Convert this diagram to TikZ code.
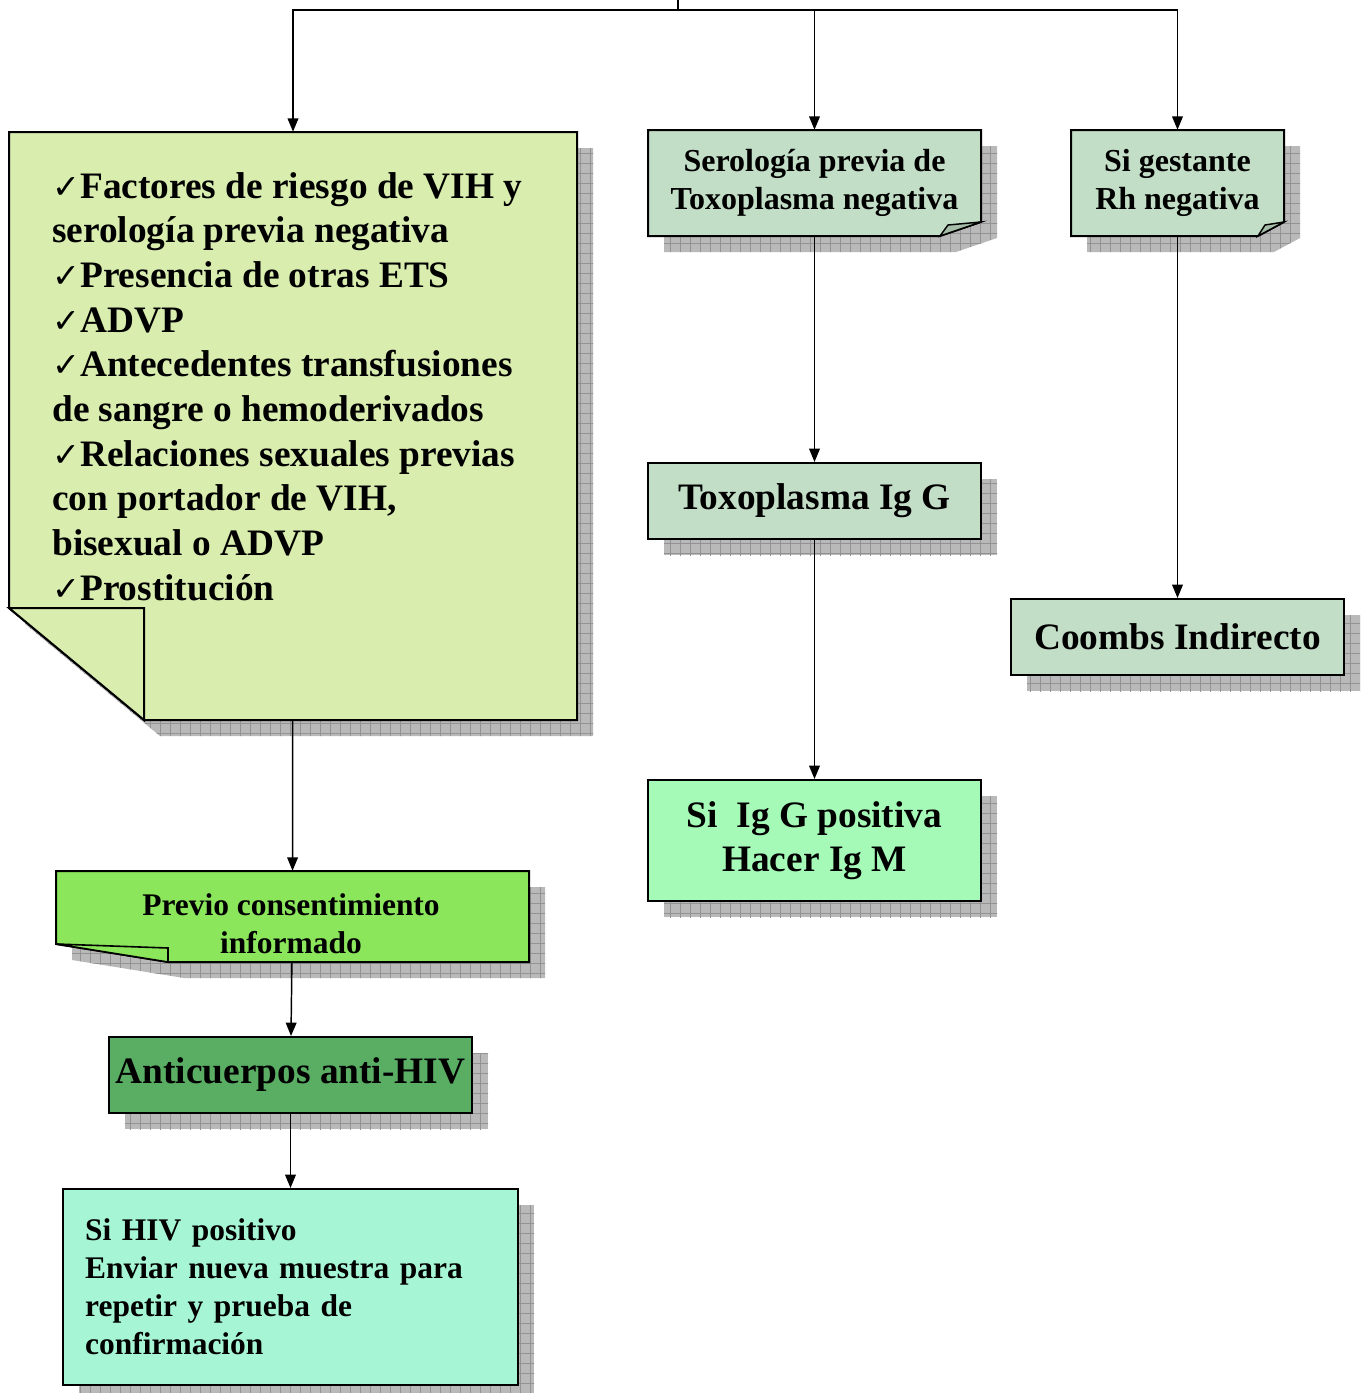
\documentclass[tikz,border=0pt]{standalone}
\usepackage{fontspec}
\setmainfont{Liberation Serif}
\newfontfamily\dejavu{DejaVu Sans}
\usetikzlibrary{arrows.meta,patterns.meta}

\definecolor{notaverde}{RGB}{216,237,174}
\definecolor{serogris}{RGB}{195,222,199}
\definecolor{igmverde}{RGB}{166,250,184}
\definecolor{previoverde}{RGB}{139,230,92}
\definecolor{antiverde}{RGB}{90,174,100}
\definecolor{hivverde}{RGB}{166,246,214}

\newcommand{\tick}{{\dejavu\fontsize{25}{25}\selectfont ✓}}

\begin{document}
\begin{tikzpicture}[x=0.75pt,y=-0.75pt,
    box/.style={draw, line width=1.5pt, inner sep=0pt, align=center},
    hueco/.style={inner sep=0pt, align=center},
    borde/.style={draw, line width=1.5pt, line join=miter},
    sombra/.style={fill=gray!55, postaction={pattern={Hatch[distance=7.5pt, line width=0.4pt]}, pattern color=gray!85}},
    txtnota/.style={font=\fontsize{28}{33.5}\selectfont\bfseries},
    txtbig/.style={font=\fontsize{28}{33}\selectfont\bfseries},
    txtmid/.style={font=\fontsize{24}{29}\selectfont\bfseries},
    txtsmall/.style={font=\fontsize{23.6}{28.5}\selectfont\bfseries},
    arr/.style={-{Triangle[length=10pt,width=8pt]}, line width=1.1pt}]
\useasboundingbox (0,0) rectangle (1364,1393);

% sombras
\path[sombra] (25,148) -- (593,148) -- (593,736) -- (160,736) -- (25,624) -- cycle;
\path[sombra] (664,146) -- (997,146) -- (997,238) -- (956,252) -- (664,252) -- cycle;
\path[sombra] (1087,146) -- (1300,146) -- (1300,238) -- (1274,252) -- (1087,252) -- cycle;
\path[sombra] (664,479) rectangle (997,555);
\path[sombra] (1027,615) rectangle (1360,691);
\path[sombra] (664,796) rectangle (997,917);
\path[sombra] (72,887) -- (545,887) -- (545,978) -- (184,978) -- (72,960) -- cycle;
\path[sombra] (125,1053) rectangle (488,1129);
\path[sombra] (79,1205) rectangle (534,1401);

% hojas con esquina doblada
\path[borde, fill=notaverde] (9,132) -- (577,132) -- (577,720) -- (144,720) -- (9,608) -- cycle;
\path[borde, fill=notaverde] (9,608) -- (144,608) -- (144,720) -- cycle;
\path[borde, fill=serogris] (648,130) -- (981,130) -- (981,222) -- (940,236) -- (648,236) -- cycle;
\path[borde, fill=serogris!85!black, line width=1.1pt] (940,236) -- (948,225) -- (981,222) -- cycle;
\path[borde, fill=serogris] (1071,130) -- (1284,130) -- (1284,222) -- (1258,236) -- (1071,236) -- cycle;
\path[borde, fill=serogris!85!black, line width=1.1pt] (1258,236) -- (1265,225) -- (1284,222) -- cycle;
\path[borde, fill=previoverde] (56,871) -- (529,871) -- (529,962) -- (168,962) -- (56,944) -- cycle;
\path[borde, fill=previoverde, line width=1.2pt] (56,944) -- (168,948) -- (168,962) -- cycle;

% nodos
\node[hueco, minimum width=426pt, minimum height=441pt] (nota) at (293,426) {};
\node[anchor=north west, inner sep=0pt, align=left, txtnota] (notatexto) at (52,172)
  {\tick Factores de riesgo de VIH y\\
   serología previa negativa\\
   \tick Presencia de otras ETS\\
   \tick ADVP\\
   \tick Antecedentes transfusiones\\
   de sangre o hemoderivados\\
   \tick Relaciones sexuales previas\\
   con portador de VIH,\\
   bisexual o ADVP\\
   \tick Prostitución};
\node[hueco, txtmid, minimum width=249.75pt, minimum height=79.5pt] (sero) at (814.5,183)
  {Serología previa de\\Toxoplasma negativa};
\node[hueco, txtmid, minimum width=159.75pt, minimum height=79.5pt] (gest) at (1177.5,183)
  {Si gestante\\Rh negativa};
\node[box, txtbig, fill=serogris, minimum width=249.75pt, minimum height=57pt] (toxo) at (814.5,501)
  {Toxoplasma Ig G};
\node[box, txtbig, fill=serogris, minimum width=249.75pt, minimum height=57pt] (coombs) at (1177.5,637)
  {Coombs Indirecto};
\node[box, txtbig, fill=igmverde, minimum width=249.75pt, minimum height=90.75pt] (igm) at (814.5,840.5)
  {Si\ \ Ig G positiva\\Hacer Ig M};
\node[hueco, minimum width=354.75pt, minimum height=68.25pt] (previo) at (292.5,916.5) {};
\node[hueco, txtsmall] (previotexto) at (291,924) {Previo consentimiento\\informado};
\node[box, txtbig, fill=antiverde, minimum width=272.25pt, minimum height=57pt] (anti) at (290.5,1075)
  {Anticuerpos anti-HIV};
\node[box, txtsmall, fill=hivverde, align=left, text width=308pt, inner xsep=16.5pt, minimum height=147pt] (hiv) at (290.5,1287)
  {Si HIV positivo\\Enviar nueva muestra para\\repetir y prueba de\\confirmación};

% conectores
\coordinate (arriba) at (678,0);
\draw[arr] (arriba) -- ++(0,10) -| (nota.north);
\draw[arr] (arriba) -- ++(0,10) -| (sero.north);
\draw[arr] (arriba) -- ++(0,10) -| (gest.north);
\draw[arr] (sero) -- (toxo);
\draw[arr] (toxo) -- (igm);
\draw[arr] (gest) -- (coombs);
\draw[arr] (nota) -- (previo);
\draw[arr] (previo) -- (anti);
\draw[arr] (anti) -- (hiv);
\end{tikzpicture}
\end{document}
